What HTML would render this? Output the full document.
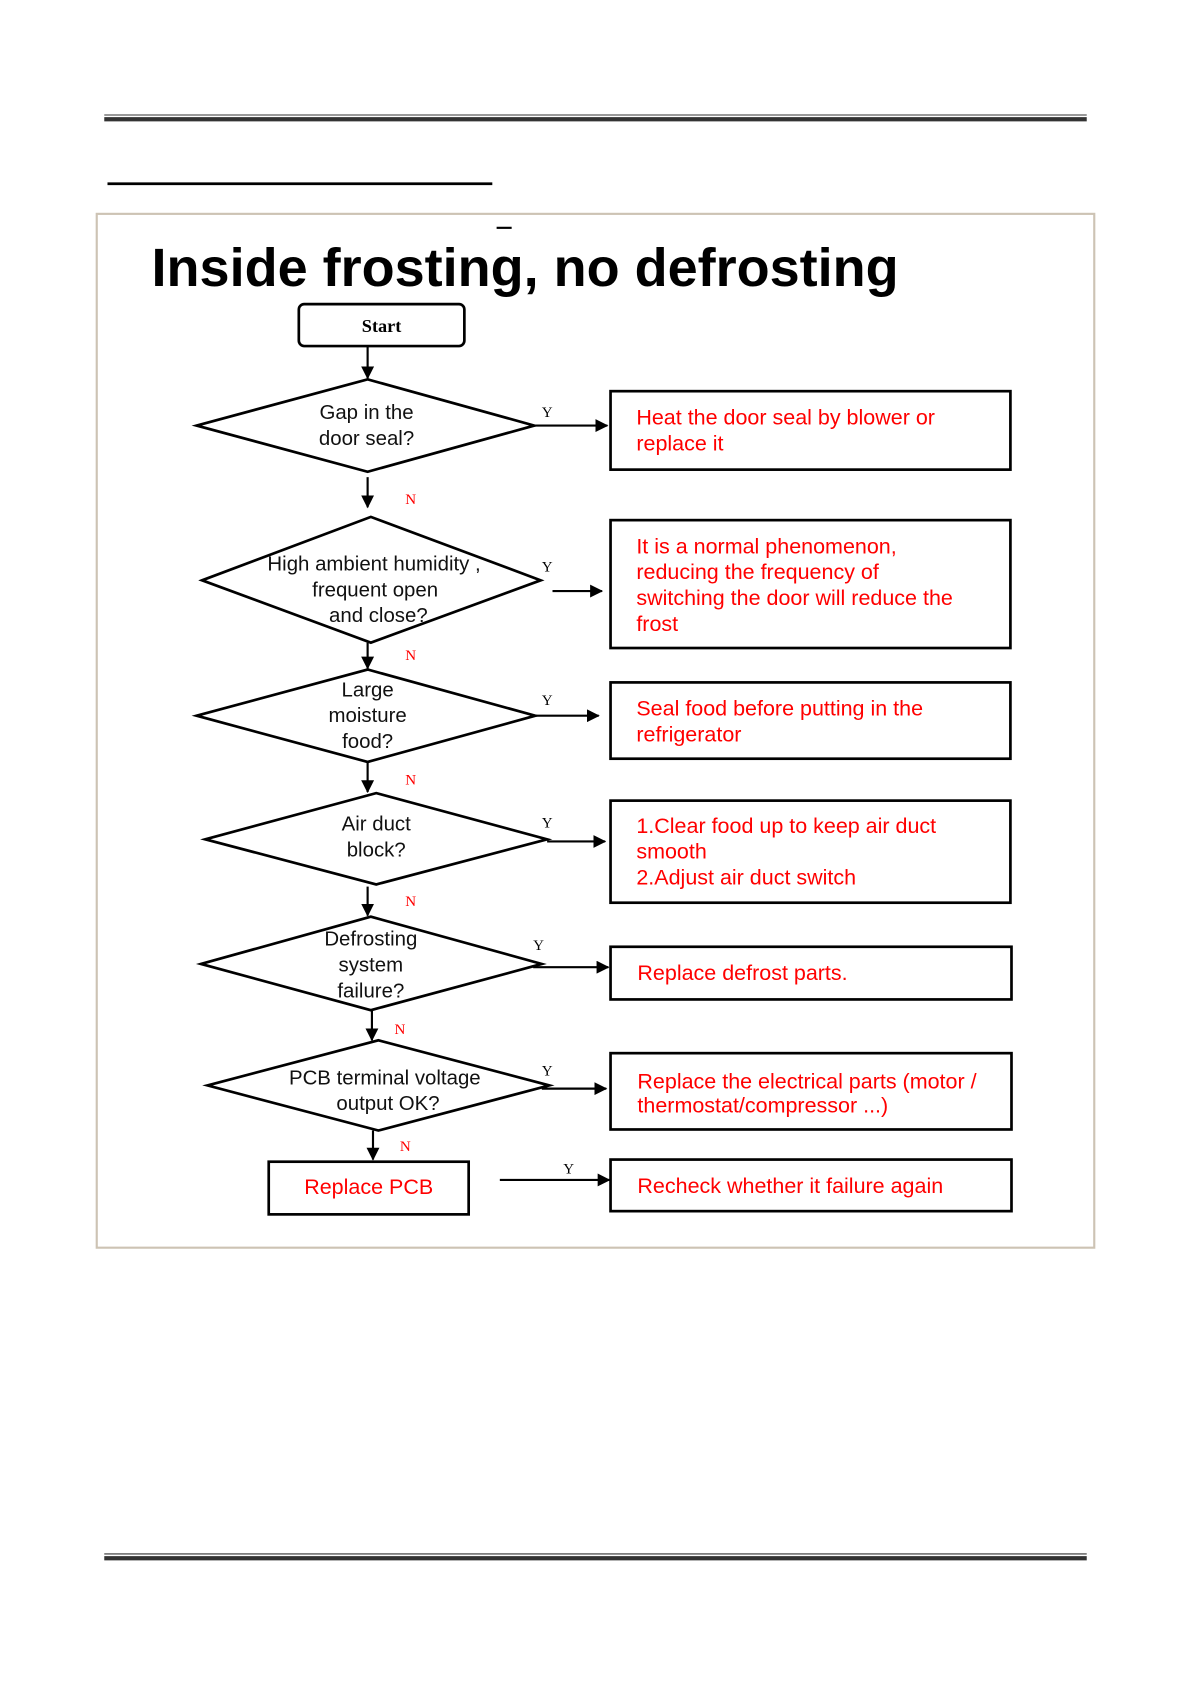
<!DOCTYPE html>
<html><head><meta charset="utf-8"><style>
html,body{margin:0;padding:0;background:#fff;}
svg{display:block;}
.d{font-family:"Liberation Sans",sans-serif;font-size:19px;fill:#111;text-anchor:middle;}
.r{font-family:"Liberation Sans",sans-serif;font-size:20px;fill:#f00;}
.yn{font-family:"Liberation Serif",serif;font-size:14px;}
</style></head><body>
<svg width="1191" height="1684" viewBox="0 0 1108 1567" preserveAspectRatio="none" xmlns="http://www.w3.org/2000/svg">
<defs><marker id="a" markerWidth="12" markerHeight="12" refX="11" refY="6" orient="auto" markerUnits="userSpaceOnUse"><path d="M0,0 L12,6 L0,12 Z" fill="#000"/></marker></defs>
<line x1="97" y1="107" x2="1011" y2="107" stroke="#333" stroke-width="1"/>
<line x1="97" y1="111" x2="1011" y2="111" stroke="#333" stroke-width="4"/>
<line x1="97" y1="1446" x2="1011" y2="1446" stroke="#333" stroke-width="1"/>
<line x1="97" y1="1450" x2="1011" y2="1450" stroke="#333" stroke-width="4"/>
<line x1="100" y1="171" x2="458" y2="171" stroke="#000" stroke-width="2.5"/>
<rect x="90" y="199" width="928" height="962" fill="none" stroke="#cdc3b4" stroke-width="2"/>
<line x1="462" y1="212" x2="476" y2="212" stroke="#000" stroke-width="2"/>
<text x="141" y="266" font-family="Liberation Sans,sans-serif" font-weight="bold" font-size="50" textLength="695" lengthAdjust="spacingAndGlyphs">Inside frosting, no defrosting</text>
<g fill="none" stroke="#000" stroke-width="2.5">
<rect x="278" y="283" width="154" height="39" rx="5"/>
<polygon points="183,396 342,353 497,396 342,439"/>
<polygon points="188,540 345,481 503,540 345,598"/>
<polygon points="183,666 342,623 498,666 342,709"/>
<polygon points="191,781 350,738 509,781 350,823"/>
<polygon points="187,897 345,853 504,897 345,940"/>
<polygon points="193,1010 352,968 511,1010 352,1052"/>
<rect x="568" y="364" width="372" height="73"/>
<rect x="568" y="484" width="372" height="119"/>
<rect x="568" y="635" width="372" height="71"/>
<rect x="568" y="745" width="372" height="95"/>
<rect x="568" y="881" width="373" height="49"/>
<rect x="568" y="980" width="373" height="71"/>
<rect x="250" y="1081" width="186" height="49"/>
<rect x="568" y="1079" width="373" height="48"/>
</g>
<g stroke="#000" stroke-width="2" marker-end="url(#a)">
<line x1="342" y1="322" x2="342" y2="352"/>
<line x1="497" y1="396" x2="565" y2="396"/>
<line x1="342" y1="444" x2="342" y2="472"/>
<line x1="514" y1="550" x2="560" y2="550"/>
<line x1="342" y1="598" x2="342" y2="622"/>
<line x1="498" y1="666" x2="557" y2="666"/>
<line x1="342" y1="709" x2="342" y2="737"/>
<line x1="509" y1="783" x2="563" y2="783"/>
<line x1="342" y1="825" x2="342" y2="852"/>
<line x1="496" y1="900" x2="566" y2="900"/>
<line x1="346" y1="940" x2="346" y2="968"/>
<line x1="504" y1="1013" x2="564" y2="1013"/>
<line x1="347" y1="1052" x2="347" y2="1079"/>
<line x1="465" y1="1098" x2="567" y2="1098"/>
</g>
<text x="355" y="309" text-anchor="middle" font-family="Liberation Serif,serif" font-weight="bold" font-size="17">Start</text>
<text class="d" x="341" y="390">Gap in the</text><text class="d" x="341" y="414">door seal?</text>
<text class="d" x="348" y="531">High ambient humidity ,</text><text class="d" x="349" y="555">frequent open</text><text class="d" x="352" y="579">and close?</text>
<text class="d" x="342" y="648">Large</text><text class="d" x="342" y="672">moisture</text><text class="d" x="342" y="696">food?</text>
<text class="d" x="350" y="773">Air duct</text><text class="d" x="350" y="797">block?</text>
<text class="d" x="345" y="880">Defrosting</text><text class="d" x="345" y="904">system</text><text class="d" x="345" y="928">failure?</text>
<text class="d" x="358" y="1009">PCB terminal voltage</text><text class="d" x="361" y="1033">output OK?</text>
<g class="yn">
<text x="504" y="388">Y</text><text x="504" y="532">Y</text><text x="504" y="656">Y</text><text x="504" y="770">Y</text><text x="496" y="884">Y</text><text x="504" y="1001">Y</text><text x="524" y="1092">Y</text>
<text x="377" y="469" fill="#f00">N</text><text x="377" y="614" fill="#f00">N</text><text x="377" y="730" fill="#f00">N</text><text x="377" y="843" fill="#f00">N</text><text x="367" y="962" fill="#f00">N</text><text x="372" y="1071" fill="#f00">N</text>
</g>
<text class="r" x="592" y="395">Heat the  door seal by blower or</text><text class="r" x="592" y="419">replace it</text>
<text class="r" x="592" y="515">It is a normal phenomenon,</text><text class="r" x="592" y="539">reducing the frequency of</text><text class="r" x="592" y="563">switching the door will reduce the</text><text class="r" x="592" y="587">frost</text>
<text class="r" x="592" y="666">Seal food before putting in the</text><text class="r" x="592" y="690">refrigerator</text>
<text class="r" x="592" y="775">1.Clear food up to keep air duct</text><text class="r" x="592" y="799">smooth</text><text class="r" x="592" y="823">2.Adjust air duct switch</text>
<text class="r" x="593" y="912">Replace defrost parts.</text>
<text class="r" x="593" y="1013" font-size="18">Replace the electrical parts (motor /</text><text class="r" x="593" y="1035" font-size="18">thermostat/compressor ...)</text>
<text class="r" x="343" y="1111" text-anchor="middle">Replace PCB</text>
<text class="r" x="593" y="1110">Recheck whether it failure again</text>
</svg>
</body></html>
